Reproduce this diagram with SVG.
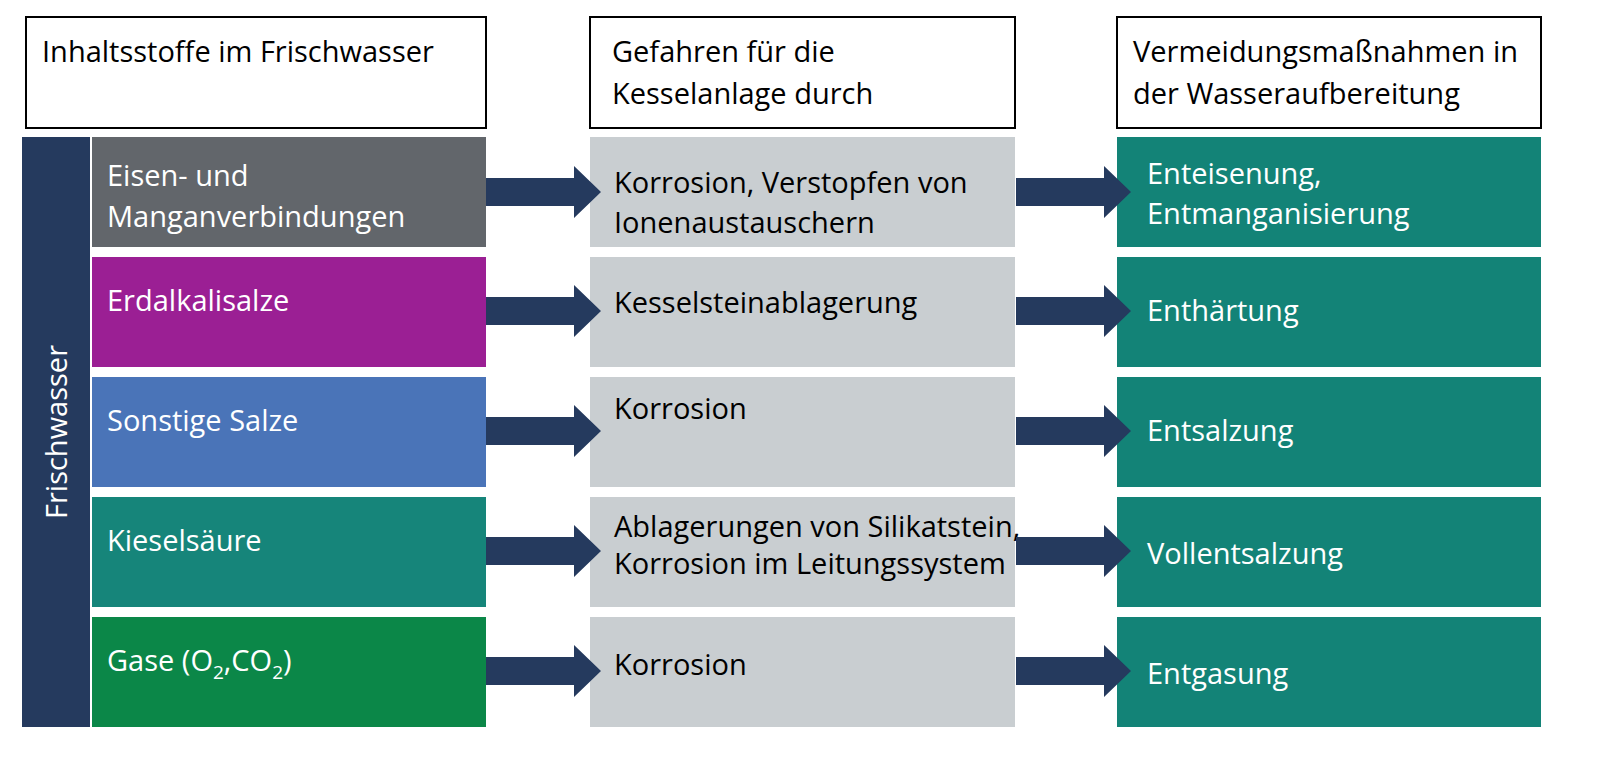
<svg xmlns="http://www.w3.org/2000/svg" width="1600" height="758" viewBox="0 0 1600 758">
<style>
text{font-family:"Open Sans","Liberation Sans",Arial,sans-serif;font-size:29px}
.w{fill:#fff}.k{fill:#000}
.hdr{fill:#fff;stroke:#000;stroke-width:2}
.mid{fill:#c9ced1}.rt{fill:#138377}
.arr{fill:#253a5e}
</style>
<defs><polygon id="a" class="arr" points="0,-14 88,-14 88,-26 115,0 88,26 88,14 0,14"/></defs>
<rect width="1600" height="758" fill="#fff"/>
<g id="headers">
<rect class="hdr" x="26" y="17" width="460" height="111"/>
<text class="k" x="42" y="62">Inhaltsstoffe im Frischwasser</text>
<rect class="hdr" x="590" y="17" width="425" height="111"/>
<text class="k" x="612" y="62">Gefahren für die</text>
<text class="k" x="612" y="104">Kesselanlage durch</text>
<rect class="hdr" x="1117" y="17" width="424" height="111"/>
<text class="k" x="1133" y="62">Vermeidungsmaßnahmen in</text>
<text class="k" x="1133" y="104">der Wasseraufbereitung</text>
</g>
<g id="frischwasser">
<rect x="22" y="137" width="68" height="590" fill="#253a5e"/>
<text class="w" transform="translate(67,432) rotate(-90)" text-anchor="middle">Frischwasser</text>
</g>
<g id="left">
<rect x="92" y="137" width="394" height="110" fill="#62666b"/>
<text class="w" x="107" y="186">Eisen- und</text><text class="w" x="107" y="227">Manganverbindungen</text>
<rect x="92" y="257" width="394" height="110" fill="#9b1f94"/>
<text class="w" x="107" y="311">Erdalkalisalze</text>
<rect x="92" y="377" width="394" height="110" fill="#4a74b8"/>
<text class="w" x="107" y="431">Sonstige Salze</text>
<rect x="92" y="497" width="394" height="110" fill="#16857a"/>
<text class="w" x="107" y="551">Kieselsäure</text>
<rect x="92" y="617" width="394" height="110" fill="#0b8748"/>
<text class="w" x="107" y="671">Gase (O<tspan font-size="19" dy="8">2</tspan><tspan dy="-8">,CO</tspan><tspan font-size="19" dy="8">2</tspan><tspan dy="-8">)</tspan></text>
</g>
<g id="middle">
<rect class="mid" x="590" y="137" width="425" height="110"/>
<text class="k" x="614" y="193">Korrosion, Verstopfen von</text><text class="k" x="614" y="233">Ionenaustauschern</text>
<rect class="mid" x="590" y="257" width="425" height="110"/>
<text class="k" x="614" y="313">Kesselsteinablagerung</text>
<rect class="mid" x="590" y="377" width="425" height="110"/>
<text class="k" x="614" y="419">Korrosion</text>
<rect class="mid" x="590" y="497" width="425" height="110"/>
<text class="k" x="614" y="537" font-size="20">Ablagerungen von Silikatstein,</text><text class="k" x="614" y="574" font-size="20">Korrosion im Leitungssystem</text>
<rect class="mid" x="590" y="617" width="425" height="110"/>
<text class="k" x="614" y="675">Korrosion</text>
</g>
<g id="right">
<rect class="rt" x="1117" y="137" width="424" height="110"/>
<text class="w" x="1147" y="184">Enteisenung,</text><text class="w" x="1147" y="224">Entmanganisierung</text>
<rect class="rt" x="1117" y="257" width="424" height="110"/>
<text class="w" x="1147" y="321">Enthärtung</text>
<rect class="rt" x="1117" y="377" width="424" height="110"/>
<text class="w" x="1147" y="441">Entsalzung</text>
<rect class="rt" x="1117" y="497" width="424" height="110"/>
<text class="w" x="1147" y="564">Vollentsalzung</text>
<rect class="rt" x="1117" y="617" width="424" height="110"/>
<text class="w" x="1147" y="684">Entgasung</text>
</g>
<g id="connectors">
<use href="#a" x="486" y="192"/><use href="#a" x="1016" y="192"/>
<use href="#a" x="486" y="311"/><use href="#a" x="1016" y="311"/>
<use href="#a" x="486" y="431"/><use href="#a" x="1016" y="431"/>
<use href="#a" x="486" y="551"/><use href="#a" x="1016" y="551"/>
<use href="#a" x="486" y="671"/><use href="#a" x="1016" y="671"/>
</g>
</svg>
